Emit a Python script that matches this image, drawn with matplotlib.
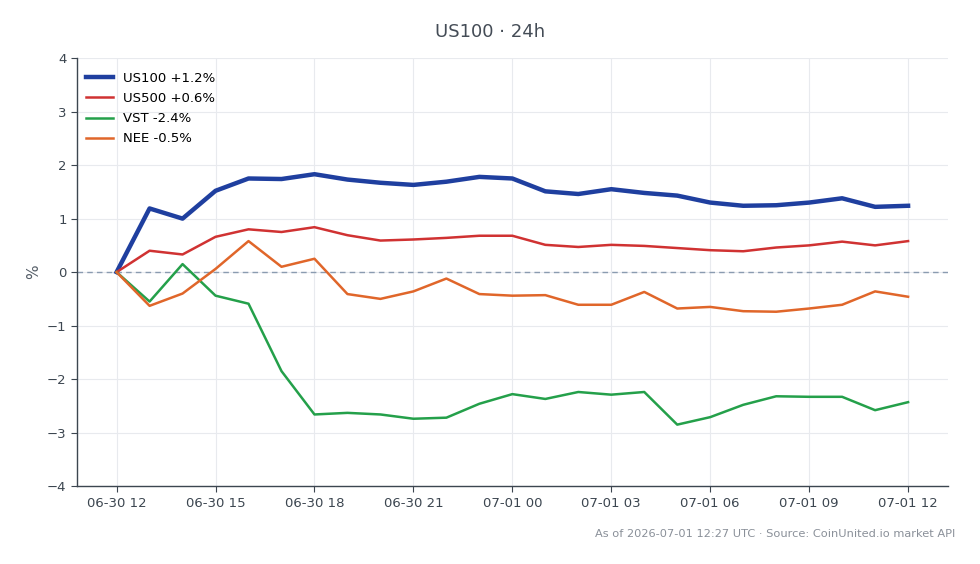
import matplotlib
matplotlib.use("Agg")
import matplotlib.pyplot as plt
import numpy as np
import pandas as pd

times = pd.date_range("2026-06-30 12:00", "2026-07-01 12:00", freq="h")

us100 = [0, 1.19, 1.00, 1.52, 1.75, 1.74, 1.83, 1.73, 1.67, 1.63, 1.69, 1.78, 1.75,
         1.51, 1.46, 1.55, 1.48, 1.43, 1.30, 1.24, 1.25, 1.30, 1.38, 1.22, 1.24]
us500 = [0, 0.40, 0.33, 0.66, 0.80, 0.75, 0.84, 0.69, 0.59, 0.61, 0.64, 0.68, 0.68,
         0.51, 0.47, 0.51, 0.49, 0.45, 0.41, 0.39, 0.46, 0.50, 0.57, 0.50, 0.58]
vst = [0, -0.55, 0.15, -0.44, -0.59, -1.85, -2.66, -2.63, -2.66, -2.74, -2.72, -2.46, -2.28,
       -2.37, -2.24, -2.29, -2.24, -2.85, -2.71, -2.48, -2.32, -2.33, -2.33, -2.58, -2.43]
nee = [0, -0.63, -0.40, 0.06, 0.58, 0.10, 0.25, -0.41, -0.50, -0.36, -0.12, -0.41, -0.44,
       -0.43, -0.61, -0.61, -0.37, -0.68, -0.65, -0.73, -0.74, -0.68, -0.61, -0.36, -0.46]

labels = ["US100 +1.2%", "US500 +0.6%", "VST -2.4%", "NEE -0.5%"]
colors = ["#1f3f9f", "#d03232", "#24a04a", "#e0662a"]
widths = [3.2, 1.8, 1.8, 1.8]
series = [us100, us500, vst, nee]

tick_times = times[::3]
tick_labels = [t.strftime("%m-%d %H") for t in tick_times]

fig = plt.figure(figsize=(9.8, 5.64), dpi=100)
ax = fig.add_axes([0.0786, 0.138, 0.8884, 0.759])

hours = np.arange(len(times))
for s, lab, c, w in zip(series, labels, colors, widths):
    ax.plot(hours, s, color=c, lw=w, label=lab, zorder=3)

ax.axhline(0, color="#8a9bb0", lw=1.0, ls=(0, (4, 3)), zorder=2)

ax.set_ylim(-4, 4)
ax.set_xlim(-1.2, 25.2)
ax.set_xticks(hours[::3])
ax.set_xticklabels(tick_labels)
ax.set_yticks(np.arange(-4, 5, 1))
ax.grid(True, color="#e8eaee", lw=0.8, zorder=0)
for sp in ["top", "right"]:
    ax.spines[sp].set_visible(False)
for sp in ["left", "bottom"]:
    ax.spines[sp].set_color("#3c4650")
    ax.spines[sp].set_linewidth(1.0)
ax.tick_params(colors="#3c4650", labelsize=9.5, length=4)
ax.set_ylabel("%", color="#555e68", fontsize=11)

ax.legend(loc="upper left", frameon=False, fontsize=9.5, handlelength=2.0,
          handletextpad=0.8, borderaxespad=0.3, labelspacing=0.55,
          bbox_to_anchor=(0.0, 0.99))

fig.text(0.5, 0.944, "US100 · 24h", ha="center", va="center", fontsize=13, color="#444c56")
fig.text(0.975, 0.053, "As of 2026-07-01 12:27 UTC · Source: CoinUnited.io market API",
         ha="right", va="center", fontsize=8.2, color="#8a9099")

fig.savefig("out.png", dpi=100, facecolor="white")
